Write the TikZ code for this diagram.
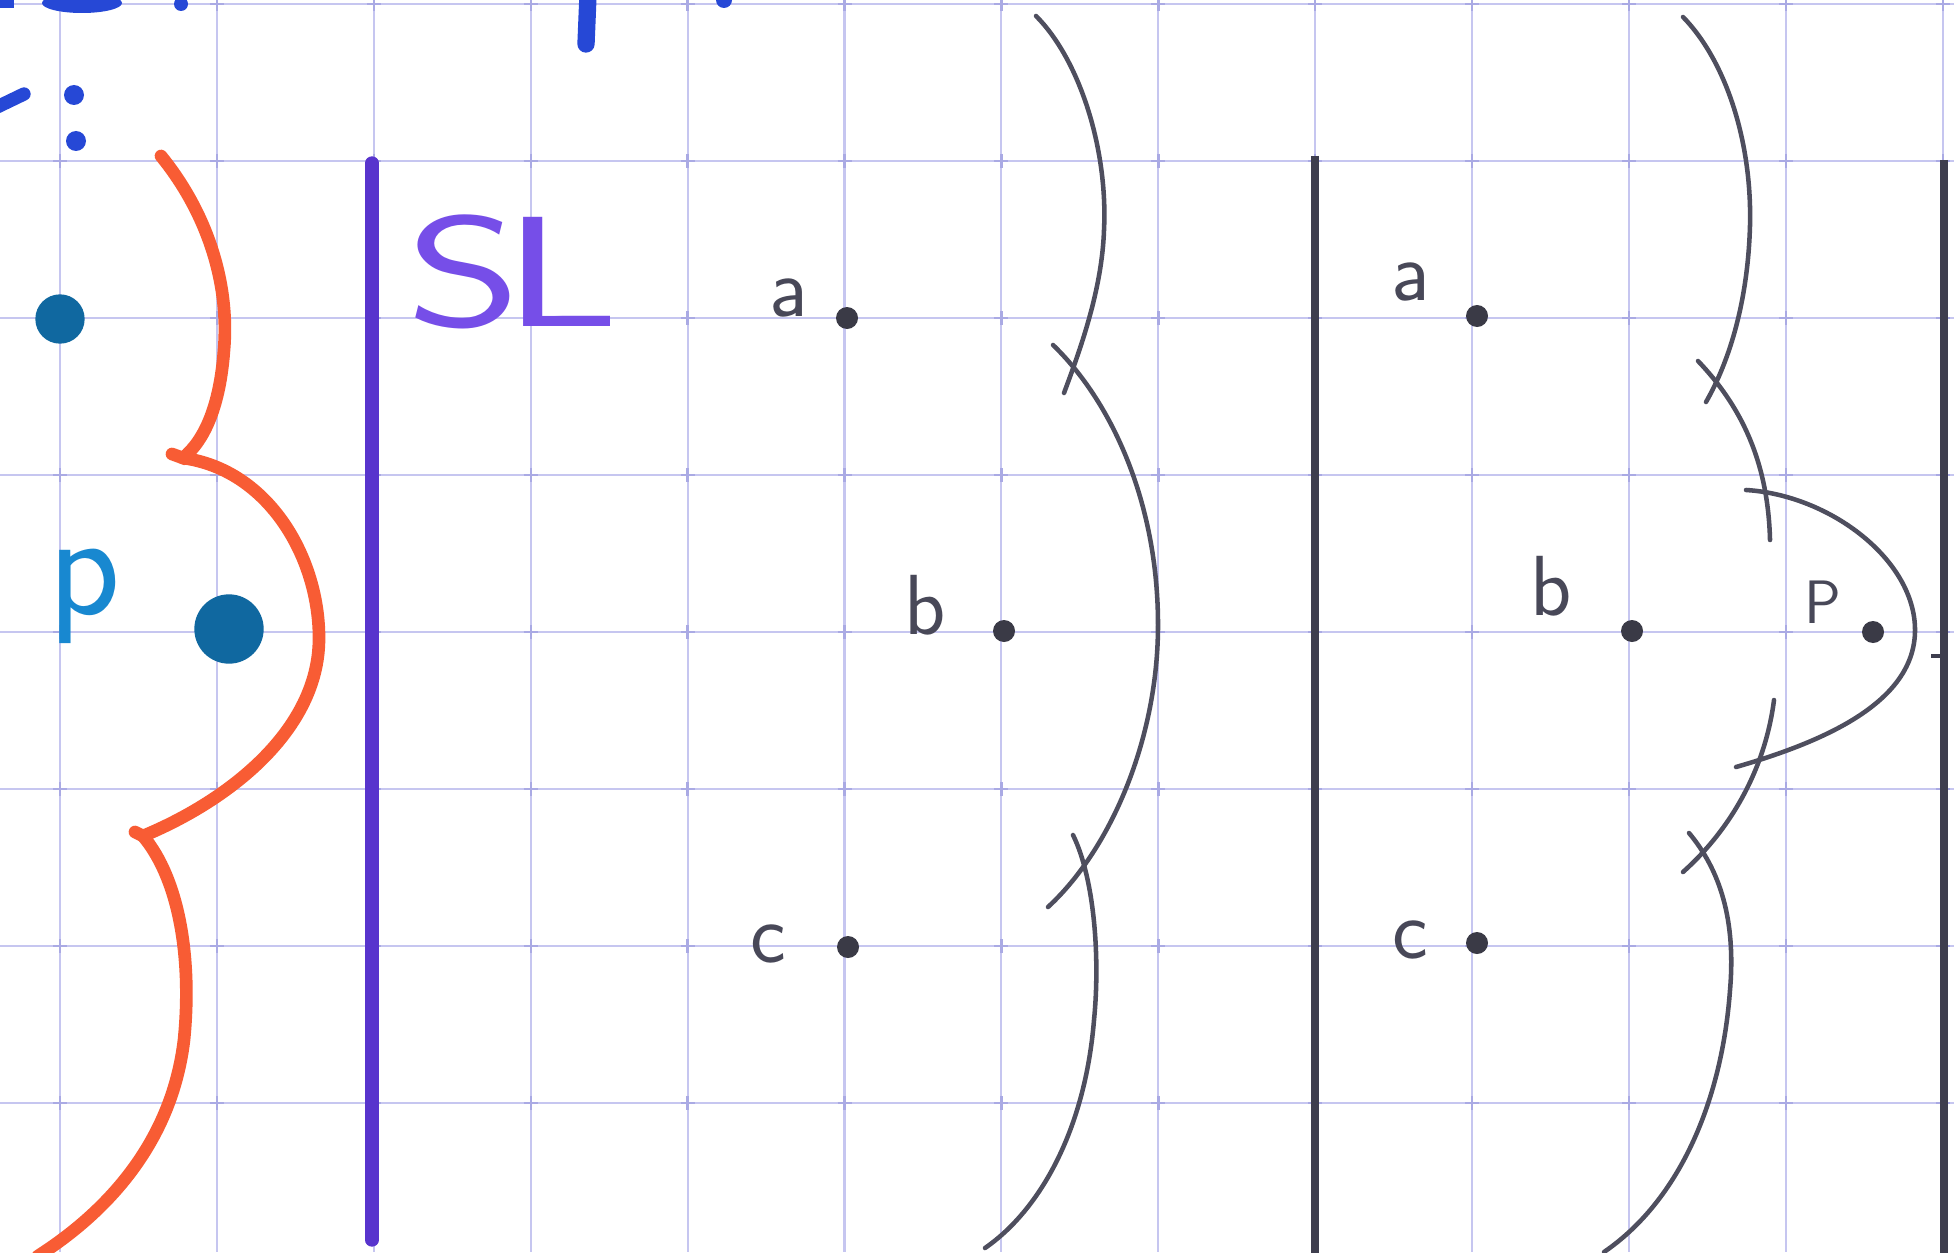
\documentclass[tikz,border=0pt]{standalone}
\usepackage{graphicx}
\usepackage{tikz}

\begin{document}
\begin{tikzpicture}[x=0.75pt,y=0.75pt,yscale=-1,xscale=1,
  gridline/.style={color={rgb, 255:red, 198; green, 198; blue, 240 }, line width=1.6pt},
  gridmark/.style={color={rgb, 255:red, 170; green, 170; blue, 228 }, line width=1.8pt},
  pencil/.style={color={rgb, 255:red, 78; green, 78; blue, 94 }, line width=3.4pt, line cap=round},
  divider/.style={color={rgb, 255:red, 62; green, 62; blue, 78 }, line width=5.5pt},
  redink/.style={color={rgb, 255:red, 248; green, 92; blue, 52 }, line width=9.5pt, line cap=round},
  blueink/.style={fill={rgb, 255:red, 38; green, 72; blue, 214 }},
  gdot/.style={circle, fill={rgb, 255:red, 58; green, 58; blue, 70 }, inner sep=0pt, minimum size=16.5pt},
  bdot/.style={circle, fill={rgb, 255:red, 16; green, 104; blue, 160 }, inner sep=0pt},
  lbl/.style={color={rgb, 255:red, 72; green, 72; blue, 88 }, font=\fontsize{64}{64}\selectfont\sffamily, anchor=base, inner sep=0pt}
]
\useasboundingbox (0,0) rectangle (1954,1252);
\fill[white] (0,0) rectangle (1954,1252);

%Grid paper
\foreach \gx in {0,...,12} \draw[gridline] ({60+156.9*\gx},0) -- ({60+156.9*\gx},1252);
\foreach \gy in {0,...,7} \draw[gridline] (0,{4+157*\gy}) -- (1954,{4+157*\gy});
\foreach \gx in {0,...,12} \foreach \gy in {0,...,7}
  \draw[gridmark] ({60+156.9*\gx-7},{4+157*\gy}) -- ({60+156.9*\gx+7},{4+157*\gy}) ({60+156.9*\gx},{4+157*\gy-7}) -- ({60+156.9*\gx},{4+157*\gy+7});

%Shape: cut off writing above
\fill[blueink] (0,-2) rectangle (14,8);
\fill[blueink] (82,3) ellipse [x radius=40, y radius=10];
\fill[blueink] (181,4) circle [radius=7];
\fill[blueink] (724,0) circle [radius=8];
\draw[color={rgb, 255:red, 38; green, 72; blue, 214 }, line width=13pt, line cap=round] (588,-5) -- (586,44);
\draw[color={rgb, 255:red, 38; green, 72; blue, 214 }, line width=10pt, line cap=round] (-5,108) -- (24,94);
\fill[blueink] (74,95) circle [radius=10];
\fill[blueink] (76,141) circle [radius=10];

%Shape: left sites and red front
\node[bdot, minimum size=37pt] (s1) at (60,319) {};
\node[bdot, minimum size=52pt] (s2) at (229,629) {};
\draw[redink] (161,156) .. controls (205,210) and (230,280) .. (224,350) .. controls (220,405) and (205,440) .. (183,458) -- (172,454) ;
\draw[redink] (183,458) .. controls (270,470) and (320,560) .. (319,640) .. controls (318,730) and (230,800) .. (143,836) -- (135,832) ;
\draw[redink] (143,836) .. controls (180,880) and (192,960) .. (184,1040) .. controls (172,1140) and (110,1210) .. (38,1256) ;

%Straight Lines: sweep lines
\draw[color={rgb, 255:red, 88; green, 52; blue, 205 }, line width=10pt, line cap=round] (372,163) -- (372,1240) ;
\draw[divider] (1315,156) -- (1315,1260) ;
\draw[divider] (1944,160) -- (1944,1260) ;
\draw[color={rgb, 255:red, 62; green, 62; blue, 78 }, line width=2.5pt] (1931,656) -- (1944,656) ;

%Shape: middle front
\node[gdot] (a1) at (847,318) {};
\node[gdot] (b1) at (1004,631) {};
\node[gdot] (c1) at (848,947) {};
\draw[pencil] (1036,16) .. controls (1080,60) and (1108,150) .. (1104,230) .. controls (1102,290) and (1080,350) .. (1064,393) ;
\draw[pencil] (1053,345) .. controls (1110,400) and (1158,500) .. (1158,625) .. controls (1158,740) and (1110,850) .. (1048,907) ;
\draw[pencil] (1073,835) .. controls (1095,880) and (1100,960) .. (1094,1020) .. controls (1085,1130) and (1040,1210) .. (985,1248) ;

%Shape: right front with new site
\node[gdot] (a2) at (1477,316) {};
\node[gdot] (b2) at (1632,631) {};
\node[gdot] (p2) at (1873,632) {};
\node[gdot] (c2) at (1477,943) {};
\draw[pencil] (1683,17) .. controls (1725,60) and (1752,140) .. (1750,225) .. controls (1748,300) and (1730,360) .. (1706,402) ;
\draw[pencil] (1698,361) .. controls (1740,405) and (1768,460) .. (1770,540) ;
\draw[pencil] (1746,490) .. controls (1830,495) and (1915,560) .. (1915,630) .. controls (1915,700) and (1830,740) .. (1736,767) ;
\draw[pencil] (1774,700) .. controls (1765,770) and (1730,830) .. (1683,872) ;
\draw[pencil] (1689,833) .. controls (1720,870) and (1736,920) .. (1730,990) .. controls (1722,1100) and (1680,1200) .. (1604,1252) ;

% Text Node
\node[font=\fontsize{118}{118}\selectfont\sffamily, color={rgb, 255:red, 118; green, 78; blue, 232 }, anchor=base west, inner sep=0pt] (sl) at (406,326) {\scalebox{1.4}[1]{S}\kern-13pt\scalebox{1.45}[1]{L}};
% Text Node
\node[font=\fontsize{112}{112}\selectfont\sffamily, color={rgb, 255:red, 24; green, 136; blue, 208 }, anchor=base west, inner sep=0pt] (lp) at (48,614) {p};
% Text Node
\node[lbl] (la1) at (789,316) {a};
\node[lbl] (lb1) at (925,634) {b};
\node[lbl] (lc1) at (768,962) {c};
% Text Node
\node[lbl] (la2) at (1411,300) {a};
\node[lbl] (lb2) at (1551,615) {b};
\node[lbl, font=\fontsize{46}{46}\selectfont\sffamily] (lp2) at (1823,623) {P};
\node[lbl] (lc2) at (1410,958) {c};

\end{tikzpicture}
\end{document}
